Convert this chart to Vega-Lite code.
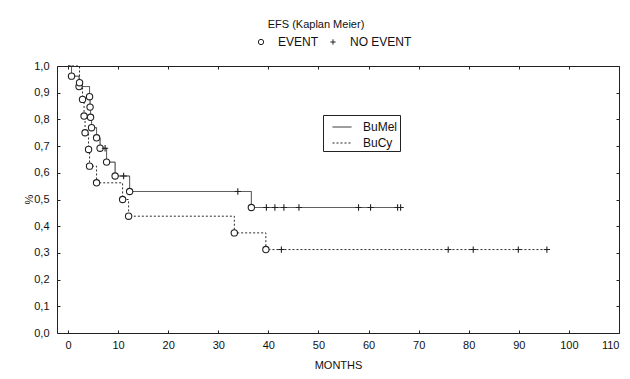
{
  "$schema": "https://vega.github.io/schema/vega-lite/v6.json",
  "autosize": {"type": "none"},
  "padding": {"left": 57, "top": 66, "right": 11, "bottom": 46},
  "width": 562,
  "height": 267,
  "title": {"text": "EFS (Kaplan Meier)", "fontSize": 11, "fontWeight": "normal", "font": "Liberation Sans", "color": "#111", "anchor": "middle", "dx": -22, "offset": 6},
  "data": {"values": [
    {"group": "BuMel", "month": 0, "surv": 1.0, "type": "start"},
    {"group": "BuMel", "month": 0.7, "surv": 0.962, "type": "EVENT"},
    {"group": "BuMel", "month": 2.2, "surv": 0.923, "type": "EVENT"},
    {"group": "BuMel", "month": 4.3, "surv": 0.885, "type": "EVENT"},
    {"group": "BuMel", "month": 4.4, "surv": 0.846, "type": "EVENT"},
    {"group": "BuMel", "month": 4.5, "surv": 0.808, "type": "EVENT"},
    {"group": "BuMel", "month": 4.7, "surv": 0.769, "type": "EVENT"},
    {"group": "BuMel", "month": 5.7, "surv": 0.731, "type": "EVENT"},
    {"group": "BuMel", "month": 6.4, "surv": 0.692, "type": "EVENT"},
    {"group": "BuMel", "month": 7.4, "surv": 0.692, "type": "NO EVENT"},
    {"group": "BuMel", "month": 7.7, "surv": 0.64, "type": "EVENT"},
    {"group": "BuMel", "month": 9.4, "surv": 0.588, "type": "EVENT"},
    {"group": "BuMel", "month": 11.1, "surv": 0.588, "type": "NO EVENT"},
    {"group": "BuMel", "month": 12.3, "surv": 0.53, "type": "EVENT"},
    {"group": "BuMel", "month": 33.9, "surv": 0.53, "type": "NO EVENT"},
    {"group": "BuMel", "month": 36.6, "surv": 0.47, "type": "EVENT"},
    {"group": "BuMel", "month": 39.6, "surv": 0.47, "type": "NO EVENT"},
    {"group": "BuMel", "month": 41.3, "surv": 0.47, "type": "NO EVENT"},
    {"group": "BuMel", "month": 43.1, "surv": 0.47, "type": "NO EVENT"},
    {"group": "BuMel", "month": 46.1, "surv": 0.47, "type": "NO EVENT"},
    {"group": "BuMel", "month": 58.0, "surv": 0.47, "type": "NO EVENT"},
    {"group": "BuMel", "month": 60.4, "surv": 0.47, "type": "NO EVENT"},
    {"group": "BuMel", "month": 65.8, "surv": 0.47, "type": "NO EVENT"},
    {"group": "BuMel", "month": 66.4, "surv": 0.47, "type": "NO EVENT"},
    {"group": "BuCy", "month": 0, "surv": 1.0, "type": "start"},
    {"group": "BuCy", "month": 2.3, "surv": 0.9375, "type": "EVENT"},
    {"group": "BuCy", "month": 2.9, "surv": 0.875, "type": "EVENT"},
    {"group": "BuCy", "month": 3.2, "surv": 0.8125, "type": "EVENT"},
    {"group": "BuCy", "month": 3.4, "surv": 0.75, "type": "EVENT"},
    {"group": "BuCy", "month": 4.1, "surv": 0.6875, "type": "EVENT"},
    {"group": "BuCy", "month": 4.3, "surv": 0.625, "type": "EVENT"},
    {"group": "BuCy", "month": 5.7, "surv": 0.5625, "type": "EVENT"},
    {"group": "BuCy", "month": 10.9, "surv": 0.5, "type": "EVENT"},
    {"group": "BuCy", "month": 12.1, "surv": 0.4375, "type": "EVENT"},
    {"group": "BuCy", "month": 33.2, "surv": 0.375, "type": "EVENT"},
    {"group": "BuCy", "month": 39.5, "surv": 0.3125, "type": "EVENT"},
    {"group": "BuCy", "month": 42.6, "surv": 0.3125, "type": "NO EVENT"},
    {"group": "BuCy", "month": 75.9, "surv": 0.3125, "type": "NO EVENT"},
    {"group": "BuCy", "month": 80.9, "surv": 0.3125, "type": "NO EVENT"},
    {"group": "BuCy", "month": 89.9, "surv": 0.3125, "type": "NO EVENT"},
    {"group": "BuCy", "month": 95.6, "surv": 0.3125, "type": "NO EVENT"}
  ]},
  "layer": [
    {
      "layer": [
        {
          "mark": {"type": "line", "interpolate": "step-after", "stroke": "#2a2a2a", "strokeWidth": 1},
          "encoding": {
            "x": {"field": "month", "type": "quantitative", "scale": {"domain": [-2.2, 110], "nice": false, "zero": false},
              "axis": {"orient": "bottom", "values": [0, 10, 20, 30, 40, 50, 60, 70, 80, 90, 100, 110], "labelOverlap": false, "title": "MONTHS", "titleFontSize": 11, "titleFontWeight": "normal", "titleY": 32, "titleBaseline": "middle", "labelPadding": 9}},
            "y": {"field": "surv", "type": "quantitative", "scale": {"domain": [0, 1], "nice": false},
              "axis": {"orient": "left", "values": [0, 0.1, 0.2, 0.3, 0.4, 0.5, 0.6, 0.7, 0.8, 0.9, 1.0], "tickCount": 11, "format": ".1f", "labelOverlap": false, "labelBound": false, "labelExpr": "replace(datum.label, '.', ',')", "title": "%", "titleFontSize": 11, "titleFontWeight": "normal", "titleAngle": -90, "titleX": -28, "titleY": 133, "titleAlign": "center", "titleBaseline": "middle", "labelPadding": 11}},
            "strokeDash": {"field": "group", "type": "nominal", "scale": {"domain": ["BuMel", "BuCy"], "range": [[1, 0], [2, 2]]},
              "legend": {"title": null, "orient": "none", "legendX": 266, "legendY": 49, "strokeColor": "#222", "padding": 2, "rowPadding": 0, "symbolType": "stroke", "symbolSize": 361, "symbolStrokeWidth": 1, "symbolStrokeColor": "#222", "symbolOffset": 7, "labelFontSize": 12, "labelOffset": 11, "labelColor": "#111"}},
            "order": {"field": "month", "type": "quantitative"}
          }
        },
        {
          "transform": [{"filter": "datum.type !== 'start'"}],
          "mark": {"type": "point", "filled": false, "fill": "white", "fillOpacity": 1, "strokeWidth": 1.1, "size": 40, "opacity": 1},
          "encoding": {
            "x": {"field": "month", "type": "quantitative"},
            "y": {"field": "surv", "type": "quantitative"},
            "shape": {"field": "type", "type": "nominal", "scale": {"domain": ["EVENT", "NO EVENT"], "range": ["circle", "M-1,0L1,0M0,-1L0,1"]},
              "legend": {"title": null, "orient": "none", "direction": "horizontal", "legendX": 198, "legendY": -30, "symbolSize": 28, "symbolStrokeWidth": 1, "labelFontSize": 12, "labelOffset": 11, "columnPadding": 8, "labelColor": "#111"}},
            "stroke": {"field": "type", "type": "nominal", "scale": {"domain": ["EVENT", "NO EVENT"], "range": ["#222222", "#222222"]},
              "legend": {"title": null, "orient": "none", "direction": "horizontal", "legendX": 198, "legendY": -30, "symbolSize": 28, "symbolStrokeWidth": 1, "labelFontSize": 12, "labelOffset": 11, "columnPadding": 8, "labelColor": "#111"}}
          }
        }
      ]
    },
    {
      "mark": {"type": "text", "text": ""},
      "encoding": {
        "x": {"field": "month", "type": "quantitative", "scale": {"domain": [-2.2, 110], "nice": false, "zero": false},
          "axis": {"orient": "top", "values": [0, 10, 20, 30, 40, 50, 60, 70, 80, 90, 100, 110], "labels": false, "title": null}},
        "y": {"field": "surv", "type": "quantitative", "scale": {"domain": [0, 1], "nice": false},
          "axis": {"orient": "right", "values": [0, 0.1, 0.2, 0.3, 0.4, 0.5, 0.6, 0.7, 0.8, 0.9, 1.0], "labels": false, "title": null}}
      }
    }
  ],
  "resolve": {"scale": {"x": "independent", "y": "independent"}},
  "config": {
    "font": "Liberation Sans",
    "view": {"stroke": "#222", "strokeWidth": 1},
    "axis": {"labelColor": "#111", "labelFontSize": 11, "tickColor": "#222", "tickSize": -3, "domain": false, "grid": false, "titleColor": "#111", "labelFont": "Liberation Sans", "titleFont": "Liberation Sans"},
    "legend": {"labelFont": "Liberation Sans"}
  }
}
